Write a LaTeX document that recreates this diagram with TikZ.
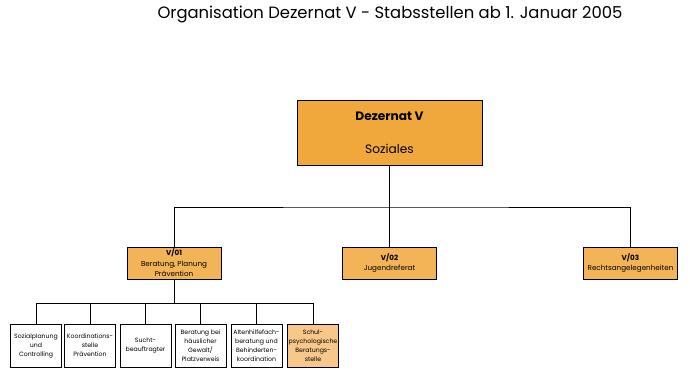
\documentclass[tikz,border=0pt]{standalone}
\usepackage{fontspec}
\setmainfont{Poppins}
\usetikzlibrary{positioning}

\begin{document}
\begin{tikzpicture}[x=1pt, y=-1pt,
  leitung/.style={draw=black, fill=dezorange, line width=0.9pt, minimum width=185pt, minimum height=65pt, inner sep=0pt, align=center, font=\fontsize{12.2}{14}\selectfont},
  stab/.style={draw=black, fill=staborange, line width=0.9pt, minimum width=94pt, minimum height=32pt, inner sep=0pt, align=center, font=\fontsize{7.2}{10.5}\selectfont},
  stelle/.style={draw=black, fill=white, line width=0.9pt, minimum width=51pt, minimum height=43pt, inner sep=0pt, align=center, font=\fontsize{6.2}{9}\selectfont},
  verbindung/.style={draw=black, line width=0.8pt}]
% Farben
  \definecolor{dezorange}{RGB}{240,168,60}
  \definecolor{staborange}{RGB}{243,180,88}
  \definecolor{hellorange}{RGB}{247,200,138}

  \useasboundingbox (0,0) rectangle (690,372);

  \node[font=\fontsize{16.4}{19}\selectfont] (titel) at (390,14) {Organisation Dezernat V - Stabsstellen ab 1. Januar 2005};

  % Dezernat
  \node[leitung] (dez) at (389.5,132.5) {\textbf{Dezernat V}\\[19pt]Soziales};

  % Stabsstellen
  \node[stab] (v01) at (174,263) {\textbf{V/01}\\Beratung, Planung\\Prävention};
  \node[stab] (v02) at (389.5,263) {\textbf{V/02}\\Jugendreferat};
  \node[stab] (v03) at (630.5,263) {\textbf{V/03}\\Rechtsangelegenheiten};

  \coordinate (schiene) at (389.5,207);
  \draw[verbindung] (dez) -- (v02);
  \draw[verbindung] (v01.north) |- (schiene) -| (v03.north);

  % Stellen unter V/01
  \node[stelle] (s1) at (36,345.5) {Sozialplanung\\und\\Controlling};
  \node[stelle] (s2) at (90,345.5) {Koordinations-\\stelle\\Prävention};
  \node[stelle] (s3) at (145.5,345.5) {Sucht-\\beauftragter};
  \node[stelle] (s4) at (200.5,345.5) {Beratung bei\\häuslicher\\Gewalt/\\Platzverweis};
  \node[stelle] (s5) at (256.5,345.5) {Altenhilfefach-\\beratung und\\Behinderten-\\koordination};
  \node[stelle, fill=hellorange] (s6) at (313,345.5) {Schul-\\psychologische\\Beratungs-\\stelle};

  \coordinate (schiene2) at (174,303);
  \draw[verbindung] (v01) -- (schiene2);
  \foreach \s in {s1,s2,s3,s4,s5,s6}
    \draw[verbindung] (\s.north) |- (schiene2);

\end{tikzpicture}
\end{document}
